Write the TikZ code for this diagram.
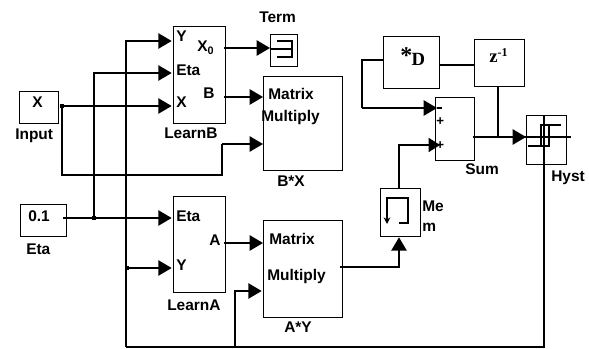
\documentclass[tikz,border=0pt]{standalone}
\usepackage{fontspec}
\setmainfont{Liberation Sans}
\newfontfamily\serifb{Liberation Serif}
\usetikzlibrary{arrows.meta}
\tikzset{
  x=0.75pt,y=-0.75pt,
  blk/.style={draw=black,line width=1pt,fill=none,inner sep=0pt,anchor=north west},
  lbl/.style={inner sep=0pt,anchor=base west,font=\fontsize{11.6}{12}\selectfont\bfseries},
  wire/.style={draw=black,line width=1.1pt},
  thick wire/.style={draw=black,line width=1.5pt},
  arr/.style={wire,-{Triangle[length=10pt,width=11.5pt]}},
  sarr/.style={wire,-{Triangle[length=8.5pt,width=10.5pt]}},
  icon/.style={draw=black,line width=0.9pt},
  dot/.style={fill=black,inner sep=0pt,minimum size=3pt,rectangle}
}
\newcommand{\blockbox}[5]{\node[blk,minimum width=#4*0.75pt,minimum height=#5*0.75pt] (#1) at (#2,#3) {};}
\begin{document}
\begin{tikzpicture}
\useasboundingbox (0,0) rectangle (589,349);
\blockbox{input}{19}{91}{39}{32}
\blockbox{eta}{20}{204}{46}{32}
\blockbox{learnB}{173}{26}{52}{97}
\blockbox{learnA}{173}{196}{52}{96}
\blockbox{term}{270}{34}{27}{32}
\blockbox{bx}{263}{76}{79}{94}
\blockbox{ay}{263}{220}{79}{97}
\blockbox{mem}{380}{188}{40}{48}
\blockbox{dgain}{383}{36}{56}{52}
\blockbox{zinv}{474}{39}{50}{47}
\blockbox{sum}{435}{97}{39}{63}
\blockbox{hyst}{526}{115}{40}{49}
% labels
\node[lbl] (tX) at (32,108) {X};
\node[lbl] (tInput) at (15,140) {Input};
\node[lbl] (t01) at (28,221) {0.1};
\node[lbl] (tEta) at (26,254) {Eta};
\node[lbl] (tY) at (176,42) {Y};
\node[lbl] (tX0) at (197,52) {X\textsubscript{0}};
\node[lbl] (tEtaB) at (176,76) {Eta};
\node[lbl] (tB) at (203,99) {B};
\node[lbl] (tXB) at (176,108) {X};
\node[lbl] (tLearnB) at (164,139) {LearnB};
\node[lbl] (tTerm) at (259,23) {Term};
\node[lbl] (tM1) at (268,100) {Matrix};
\node[lbl] (tM2) at (261,122) {Multiply};
\node[lbl] (tBX) at (277,187) {B*X};
\node[lbl] (tEtaA) at (176,221) {Eta};
\node[lbl] (tA) at (209,245) {A};
\node[lbl] (tYA) at (176,270) {Y};
\node[lbl] (tLearnA) at (167,310) {LearnA};
\node[lbl] (tM3) at (269,244) {Matrix};
\node[lbl] (tM4) at (267,280) {Multiply};
\node[lbl] (tAY) at (284,332) {A*Y};
\node[lbl] (tMe) at (422,212) {Me};
\node[lbl] (tm) at (422,231) {m};
\node[lbl] (tSum) at (465,175) {Sum};
\node[lbl] (tHyst) at (551,181) {Hyst};
\node[lbl,font=\fontsize{16}{16}\selectfont\bfseries\serifb] (tD) at (400,66) {\raisebox{1.5pt}{\fontsize{18}{18}\selectfont *}\kern-0.5pt\fontsize{14}{14}\selectfont D};
\node[lbl,font=\fontsize{14}{14}\selectfont\bfseries\serifb] (tZ) at (489,63) {z\raisebox{5pt}{\fontsize{9}{9}\selectfont -1}};
\node[lbl,font=\fontsize{10}{10}\selectfont\bfseries] (tP1) at (436,126) {+};
\node[lbl,font=\fontsize{10}{10}\selectfont\bfseries] (tP2) at (436,150) {+};
% junction coordinates
\coordinate (jX) at (62,106);
\coordinate (jEta) at (94,218);
\coordinate (jY) at (127,268);
\coordinate (jA) at (235,347);
\coordinate (vD) at (362,60);
% connectors
\draw[arr] (60,106) -- ([xshift=-1pt]learnB.west |- jX);
\draw[thick wire] (jX) -- (62,175) -- (222,175) -- (222,144);
\draw[arr] (222,144) -- (bx.west |- 0,144);
\draw[arr] (63,218) -- ([xshift=-1pt]learnA.west |- jEta);
\draw[arr] (jEta) -- (94,73) -- ([xshift=-1pt]learnB.west |- 0,73);
\draw[arr] (126,347) -- (126,41) -- ([xshift=-1pt]learnB.west |- 0,41);
\draw[arr] (jY) -- ([xshift=-1pt]learnA.west |- jY);
\draw[wire] (126,347) -- (544,347) -- (544,115);
\draw[thick wire] (199,347) -- (270,347);
\draw[arr] (jA) -- (235,291) -- ([xshift=-1pt]ay.west |- 0,291);
\draw[arr] (224,48) -- (term.west |- 0,48);
\draw[arr] (224,97) -- (bx.west |- 0,97);
\draw[arr] (224,243) -- (ay.west |- 0,243);
\draw[arr] (340,267) -- (399,267) -- (mem.south -| 399,0);
\draw[wire] (mem.north -| 399,0) -- (399,145) -- (421,145);
\draw[sarr] (421,145) -- (440,145);
\draw[wire] (dgain.west |- vD) -- (vD) -- (362,108);
\draw[arr] (362,108) -- (437,108);
\draw[wire] (437,108) -- (442,108);
\draw[wire] (dgain.east |- 0,65) -- (zinv.west |- 0,65);
\draw[wire] (498,86) -- (498,137);
\draw[wire] (473,137) -- (505,137);
\draw[arr] (505,137) -- (526,137);
% junction dots
\node[dot] (d1) at (jX) {};
\node[dot] (d2) at (jEta) {};
\node[dot] (d3) at (jY) {};
% hysteresis icon
\draw[icon] (520,137) -- (571,137);
\draw[icon] (561,125) -- (541,125) -- (541,146);
\draw[icon] (528,146) -- (549,146) -- (549,125);
% terminator icon
\draw[icon] (277,41) -- (292,41) -- (292,57) -- (277,57);
\draw[icon] (270,49) -- (292,49);
% memory icon
\draw[icon,-{Stealth[length=5pt,width=5pt]}] (399,223) -- (408,223) -- (408,198) -- (387,198) -- (387,224);
\end{tikzpicture}
\end{document}
